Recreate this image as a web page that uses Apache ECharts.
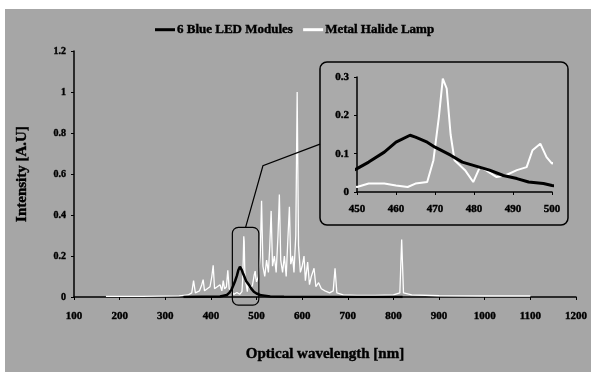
<!DOCTYPE html>
<html><head><meta charset="utf-8">
<script src="https://cdn.jsdelivr.net/npm/echarts@6/dist/echarts.min.js"></script>
<style>html,body{margin:0;padding:0;background:#fff}#c{width:591px;height:372px}</style>
</head><body><div id="c"></div>
<script>
const seriesNames = ['6 Blue LED Modules', 'Metal Halide Lamp'];
const xAxisTitle = 'Optical wavelength [nm]';
const yAxisTitle = 'Intensity [A.U]';

const halideWavelength = [170,250,330,350,358,362,366,375,380,383,386,392,398,402,405,408,414,420,424,427,430,434,437,440,445,450,453,457,460,463,465,468,469.6,471,472,473,474,475,477.7,479.8,481.5,483,485.8,488,491,493.5,495,497,498.6,500,504,508,511,514,518,522,526,529,532,535,539,543,547,550,553,557,561,565,569,572,575,579,582,586,589,592,596,600,604,607,612,616,620,626,630,636,642,650,660,668,672,676,690,720,760,800,814,818,822,840,900,1000,1100];
const halideIntensity = [0.003,0.003,0.005,0.01,0.02,0.08,0.02,0.03,0.06,0.085,0.03,0.04,0.05,0.1,0.155,0.04,0.05,0.06,0.03,0.08,0.04,0.05,0.13,0.04,0.03,0.013,0.022,0.022,0.017,0.013,0.022,0.026,0.083,0.196,0.296,0.27,0.15,0.083,0.057,0.026,0.065,0.057,0.039,0.043,0.057,0.065,0.109,0.126,0.091,0.074,0.1,0.2,0.47,0.15,0.1,0.18,0.12,0.25,0.42,0.15,0.2,0.12,0.3,0.5,0.18,0.12,0.2,0.1,0.3,0.44,0.16,0.2,0.12,0.3,1.0,0.25,0.12,0.15,0.2,0.08,0.17,0.06,0.1,0.14,0.05,0.07,0.04,0.03,0.02,0.03,0.14,0.02,0.01,0.008,0.008,0.01,0.02,0.28,0.02,0.01,0.006,0.005,0.005];

const ledWavelength = [340,420,435,440,445,450,453,457,460,463.6,465,468,470,474,477,480.7,484,487.5,491,494,497.8,500,510,530,560,820];
const ledIntensity = [0,0.002,0.01,0.02,0.035,0.061,0.078,0.104,0.13,0.148,0.143,0.13,0.117,0.096,0.078,0.067,0.057,0.043,0.035,0.026,0.022,0.017,0.008,0.003,0.001,0];

const mainXRange = [100, 1200];
const mainXStep = 100;
const mainYRange = [0, 1.2];
const mainYStep = 0.2;
const insetXRange = [450, 500];
const insetXStep = 10;
const insetYRange = [0, 0.3];
const insetYStep = 0.1;
const calloutBoxX = [447, 505];
const calloutBoxY = [-0.04, 0.34];
const calloutStart = [476, 0.34];
const calloutBend = [514, 0.64];
const calloutEndInsetY = 0.125;

const pairs = (xs, ys) => xs.map((x, i) => [x, ys[i]]);
const FONT = 'Liberation Serif';
const BG = '#a6a6a6';

const chart = echarts.init(document.getElementById('c'));
const boldText = (size) => ({ color: '#000', fontFamily: FONT, fontWeight: 'bold', fontSize: size, textBorderColor: '#000', textBorderWidth: 0.4 });
const plain = (v) => String(v);

chart.setOption({
  backgroundColor: BG,
  animation: false,
  textStyle: { fontFamily: FONT },
  legend: {
    left: 150, top: 18, itemWidth: 20, itemHeight: 3, itemGap: 10, icon: 'rect',
    textStyle: Object.assign({ padding: [0, 0, 0, -3] }, boldText(13)),
    data: [
      { name: seriesNames[0], itemStyle: { color: '#000' } },
      { name: seriesNames[1], itemStyle: { color: '#fff' } }
    ]
  },
  grid: [
    { left: 74, right: 15, top: 51, bottom: 75 },
    { left: 357, right: 39, top: 77, bottom: 180 }
  ],
  xAxis: [
    { gridIndex: 0, type: 'value', min: mainXRange[0], max: mainXRange[1], interval: mainXStep,
      name: xAxisTitle, nameLocation: 'middle', nameGap: 50,
      nameTextStyle: boldText(15),
      axisLine: { lineStyle: { color: '#000', width: 1.5 } },
      axisTick: { show: true, length: 3, lineStyle: { color: '#000' } },
      splitLine: { show: false },
      axisLabel: Object.assign({ margin: 14, formatter: plain }, boldText(11)) },
    { gridIndex: 1, type: 'value', min: insetXRange[0], max: insetXRange[1], interval: insetXStep,
      axisLine: { lineStyle: { color: '#000', width: 1.5 } },
      axisTick: { show: true, length: 3, lineStyle: { color: '#000' } },
      splitLine: { show: false },
      axisLabel: Object.assign({ margin: 12, formatter: plain }, boldText(11)) }
  ],
  yAxis: [
    { gridIndex: 0, type: 'value', min: mainYRange[0], max: mainYRange[1], interval: mainYStep,
      name: yAxisTitle, nameLocation: 'middle', nameGap: 44,
      nameTextStyle: boldText(15),
      axisLine: { show: true, lineStyle: { color: '#000', width: 1.5 } },
      axisTick: { show: true, length: 3, lineStyle: { color: '#000' } },
      splitLine: { show: false },
      axisLabel: Object.assign({ margin: 8 }, boldText(10)) },
    { gridIndex: 1, type: 'value', min: insetYRange[0], max: insetYRange[1], interval: insetYStep,
      axisLine: { show: true, lineStyle: { color: '#000', width: 1.5 } },
      axisTick: { show: true, length: 3, lineStyle: { color: '#000' } },
      splitLine: { show: false },
      axisLabel: Object.assign({ margin: 8 }, boldText(11)) }
  ],
  series: [
    { name: seriesNames[1], type: 'line', xAxisIndex: 0, yAxisIndex: 0, showSymbol: false,
      data: pairs(halideWavelength, halideIntensity), lineStyle: { color: '#fff', width: 1.3 }, itemStyle: { color: '#fff' }, z: 2 },
    { name: seriesNames[0], type: 'line', xAxisIndex: 0, yAxisIndex: 0, showSymbol: false,
      data: pairs(ledWavelength, ledIntensity), lineStyle: { color: '#000', width: 2.5 }, itemStyle: { color: '#000' }, z: 3 },
    { name: seriesNames[1], type: 'line', xAxisIndex: 1, yAxisIndex: 1, showSymbol: false, clip: true,
      data: pairs(halideWavelength, halideIntensity), lineStyle: { color: '#fff', width: 2 }, itemStyle: { color: '#fff' }, z: 5 },
    { name: seriesNames[0], type: 'line', xAxisIndex: 1, yAxisIndex: 1, showSymbol: false, clip: true,
      data: pairs(ledWavelength, ledIntensity), lineStyle: { color: '#000', width: 3 }, itemStyle: { color: '#000' }, z: 6 }
  ]
});

// annotation graphics derived from axis coordinates
const p = (g, v) => chart.convertToPixel({ gridIndex: g }, v);
const b0 = p(0, [calloutBoxX[0], calloutBoxY[1]]);
const b1 = p(0, [calloutBoxX[1], calloutBoxY[0]]);
const s = p(0, calloutStart);
const bend = p(0, calloutBend);
const i0 = p(1, [insetXRange[0], insetYRange[1]]);
const i1 = p(1, [insetXRange[1], insetYRange[0]]);
const insetBox = { x: i0[0] - 37, y: i0[1] - 15, x2: i1[0] + 16, y2: i1[1] + 33 };
const endY = p(1, [insetXRange[0], calloutEndInsetY])[1];

chart.setOption({
  graphic: [
    { type: 'rect', z: -5, shape: { x: 0, y: 0, width: 591, height: 9 }, style: { fill: '#fff' } },
    { type: 'rect', z: -5, shape: { x: 0, y: 0, width: 5, height: 372 }, style: { fill: '#fff' } },
    { type: 'rect', z: -1, shape: { x: insetBox.x, y: insetBox.y, width: insetBox.x2 - insetBox.x, height: insetBox.y2 - insetBox.y, r: 7 },
      style: { fill: '#aaaaaa', stroke: '#000', lineWidth: 1.5 } },
    { type: 'rect', z: 10, shape: { x: b0[0], y: b0[1], width: b1[0] - b0[0], height: b1[1] - b0[1], r: 6 },
      style: { fill: null, stroke: '#000', lineWidth: 1.2 } },
    { type: 'polyline', z: 10, shape: { points: [s, bend, [insetBox.x, endY]] },
      style: { fill: null, stroke: '#000', lineWidth: 1.2 } }
  ]
});
</script></body></html>
